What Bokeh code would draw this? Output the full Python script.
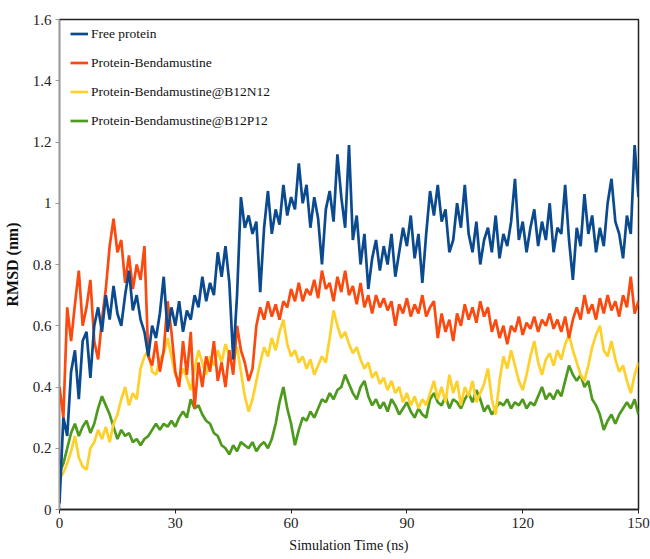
from bokeh.plotting import figure
from bokeh.models import Legend, LegendItem, FixedTicker, ColumnDataSource
from bokeh.embed import file_html
from bokeh.resources import INLINE

# ---------------- data (1 ns steps) ----------------
time_ns = list(range(0, 151))

free_protein = [
    0.02, 0.30, 0.24, 0.45, 0.52, 0.36, 0.55, 0.58, 0.43, 0.60,
    0.66, 0.58, 0.70, 0.62, 0.73, 0.64, 0.60, 0.70, 0.78, 0.65,
    0.70, 0.62, 0.58, 0.50, 0.60, 0.56, 0.64, 0.76, 0.58, 0.66,
    0.60, 0.68, 0.58, 0.65, 0.62, 0.70, 0.66, 0.76, 0.68, 0.74,
    0.70, 0.84, 0.76, 0.86, 0.74, 0.49, 0.70, 1.02, 0.92, 0.96,
    0.90, 0.94, 0.71, 0.92, 1.04, 0.90, 0.98, 0.93, 1.06, 0.96,
    1.02, 0.98, 1.13, 1.00, 1.06, 0.92, 1.02, 0.95, 0.80, 0.98,
    1.04, 0.94, 1.16, 1.02, 0.92, 1.19, 0.88, 0.96, 0.80, 0.90,
    0.72, 0.82, 0.88, 0.78, 0.86, 0.80, 0.90, 0.76, 0.84, 0.92,
    0.86, 0.96, 0.82, 0.90, 0.74, 0.90, 1.04, 0.96, 1.06, 0.94,
    0.98, 0.84, 0.88, 1.00, 0.92, 1.06, 0.90, 0.84, 0.94, 0.80,
    0.88, 0.92, 0.84, 0.96, 0.82, 0.90, 0.86, 0.94, 1.08, 0.88,
    0.94, 0.84, 0.92, 0.98, 0.86, 0.94, 0.88, 1.00, 0.84, 0.92,
    0.90, 1.06, 0.88, 0.75, 0.92, 0.86, 1.03, 0.90, 0.96, 0.84,
    0.92, 0.86, 1.00, 1.08, 0.94, 0.90, 0.82, 0.96, 0.90, 1.19,
    1.02,
]

protein_bend = [
    0.40, 0.30, 0.66, 0.55, 0.67, 0.78, 0.60, 0.66, 0.75, 0.55,
    0.49, 0.62, 0.72, 0.86, 0.95, 0.84, 0.88, 0.74, 0.83, 0.72,
    0.80, 0.75, 0.86, 0.50, 0.47, 0.55, 0.45, 0.52, 0.68, 0.58,
    0.45, 0.40, 0.55, 0.44, 0.58, 0.33, 0.48, 0.40, 0.50, 0.45,
    0.55, 0.42, 0.48, 0.40, 0.52, 0.44, 0.60, 0.52, 0.48, 0.42,
    0.46, 0.60, 0.66, 0.62, 0.68, 0.63, 0.67, 0.62, 0.68, 0.66,
    0.72, 0.68, 0.74, 0.68, 0.72, 0.70, 0.75, 0.69, 0.78, 0.72,
    0.74, 0.68, 0.76, 0.71, 0.78, 0.70, 0.73, 0.67, 0.74, 0.66,
    0.70, 0.64, 0.70, 0.66, 0.69, 0.65, 0.68, 0.60, 0.67, 0.64,
    0.69, 0.63, 0.67, 0.64, 0.70, 0.63, 0.66, 0.68, 0.56, 0.64,
    0.58, 0.62, 0.55, 0.64, 0.60, 0.67, 0.62, 0.66, 0.61, 0.68,
    0.63, 0.66, 0.58, 0.62, 0.56, 0.60, 0.54, 0.60, 0.58, 0.63,
    0.57, 0.61, 0.59, 0.63, 0.58, 0.62, 0.60, 0.64, 0.59, 0.62,
    0.58, 0.63, 0.56, 0.62, 0.66, 0.62, 0.70, 0.64, 0.67, 0.62,
    0.69, 0.64, 0.70, 0.65, 0.68, 0.63, 0.70, 0.66, 0.76, 0.64,
    0.68,
]

protein_bend_b12n12 = [
    0.10, 0.12, 0.15, 0.19, 0.24, 0.17, 0.14, 0.13, 0.20, 0.22,
    0.26, 0.23, 0.27, 0.22, 0.28, 0.31, 0.36, 0.40, 0.34, 0.38,
    0.36, 0.46, 0.50, 0.52, 0.45, 0.44, 0.49, 0.51, 0.56, 0.50,
    0.44, 0.42, 0.46, 0.43, 0.39, 0.46, 0.52, 0.48, 0.44, 0.50,
    0.47, 0.52, 0.48, 0.54, 0.50, 0.49, 0.53, 0.45, 0.37, 0.32,
    0.36, 0.42, 0.48, 0.53, 0.50, 0.56, 0.52, 0.58, 0.62, 0.54,
    0.50, 0.52, 0.48, 0.50, 0.46, 0.49, 0.44, 0.47, 0.50, 0.48,
    0.56, 0.65, 0.60, 0.56, 0.58, 0.54, 0.51, 0.53, 0.49, 0.46,
    0.48, 0.43, 0.45, 0.41, 0.43, 0.39, 0.42, 0.38, 0.40, 0.35,
    0.38, 0.34, 0.37, 0.33, 0.36, 0.34, 0.38, 0.42, 0.36, 0.40,
    0.35, 0.44, 0.38, 0.42, 0.34, 0.40, 0.37, 0.42, 0.35, 0.38,
    0.41, 0.46, 0.36, 0.31, 0.42, 0.50, 0.46, 0.52, 0.47, 0.42,
    0.39, 0.44, 0.50, 0.55, 0.48, 0.44, 0.49, 0.51, 0.47, 0.52,
    0.49, 0.54, 0.57, 0.52, 0.48, 0.44, 0.42, 0.47, 0.53, 0.57,
    0.60, 0.52, 0.50, 0.55, 0.49, 0.45, 0.47, 0.42, 0.38, 0.44,
    0.48,
]

protein_bend_b12p12 = [
    0.12, 0.15, 0.20, 0.25, 0.28, 0.24, 0.27, 0.29, 0.25, 0.28,
    0.33, 0.37, 0.34, 0.31, 0.27, 0.23, 0.26, 0.24, 0.25, 0.22,
    0.23, 0.21, 0.23, 0.24, 0.26, 0.28, 0.26, 0.28, 0.27, 0.29,
    0.27, 0.30, 0.32, 0.30, 0.36, 0.33, 0.34, 0.31, 0.29, 0.28,
    0.25, 0.24, 0.21, 0.20, 0.18, 0.21, 0.19, 0.22, 0.21, 0.20,
    0.22, 0.19, 0.21, 0.22, 0.20, 0.23, 0.28, 0.35, 0.40, 0.33,
    0.28, 0.21, 0.26, 0.30, 0.29, 0.32, 0.30, 0.33, 0.36, 0.35,
    0.38, 0.36, 0.39, 0.40, 0.44, 0.41, 0.38, 0.36, 0.40, 0.42,
    0.37, 0.34, 0.36, 0.33, 0.35, 0.32, 0.36, 0.34, 0.31, 0.33,
    0.35, 0.32, 0.30, 0.33, 0.31, 0.30, 0.36, 0.38, 0.35, 0.34,
    0.37, 0.33, 0.36, 0.35, 0.33, 0.36, 0.38, 0.35, 0.39, 0.36,
    0.32, 0.34, 0.31, 0.33, 0.35, 0.34, 0.36, 0.33, 0.35, 0.34,
    0.36, 0.33, 0.35, 0.34, 0.37, 0.40, 0.36, 0.38, 0.36, 0.39,
    0.37, 0.42, 0.47, 0.44, 0.42, 0.44, 0.40, 0.42, 0.36, 0.34,
    0.31, 0.26, 0.29, 0.31, 0.28, 0.31, 0.33, 0.35, 0.33, 0.36,
    0.31,
]

series_names = ["Free protein", "Protein-Bendamustine",
                "Protein-Bendamustine@B12N12", "Protein-Bendamustine@B12P12"]
series_colors = ["#0b4a8e", "#fb4a10", "#fdd02a", "#4e9a1e"]

x_ticks = [0, 30, 60, 90, 120, 150]
y_ticks = [0, 0.2, 0.4, 0.6, 0.8, 1.0, 1.2, 1.4, 1.6]
y_tick_labels = ["0", "0.2", "0.4", "0.6", "0.8", "1", "1.2", "1.4", "1.6"]

# ---------------- figure ----------------
FONT = "Liberation Serif"
LW = 2.7

p = figure(width=650, height=559, output_backend="svg", toolbar_location=None,
           x_range=(0, 150), y_range=(0, 1.6),
           min_border_left=59, min_border_right=12,
           min_border_top=19, min_border_bottom=50)

src = ColumnDataSource(dict(t=time_ns, a=free_protein, b=protein_bend,
                            c=protein_bend_b12n12, d=protein_bend_b12p12))

r_d = p.line("t", "d", source=src, line_color=series_colors[3], line_width=LW)
r_c = p.line("t", "c", source=src, line_color=series_colors[2], line_width=LW)
r_b = p.line("t", "b", source=src, line_color=series_colors[1], line_width=LW)
r_a = p.line("t", "a", source=src, line_color=series_colors[0], line_width=LW)

legend = Legend(items=[
    LegendItem(label=series_names[0], renderers=[r_a]),
    LegendItem(label=series_names[1], renderers=[r_b]),
    LegendItem(label=series_names[2], renderers=[r_c]),
    LegendItem(label=series_names[3], renderers=[r_d]),
], location=(11, 380))
legend.border_line_color = None
legend.background_fill_alpha = 0
legend.padding = 0
legend.margin = 0
legend.spacing = 12
legend.glyph_width = 18
legend.glyph_height = 17
legend.label_height = 17
legend.label_standoff = 3
legend.label_text_font = FONT
legend.label_text_font_size = "13.5px"
legend.label_text_color = "#111111"
p.add_layout(legend, "center")

p.xgrid.visible = False
p.ygrid.visible = False
p.outline_line_color = "#222222"
p.outline_line_width = 1.5

p.xaxis.ticker = FixedTicker(ticks=x_ticks)
p.yaxis.ticker = FixedTicker(ticks=y_ticks)
p.yaxis.major_label_overrides = {v: s for v, s in zip(y_ticks, y_tick_labels)}

for ax in (p.xaxis[0], p.yaxis[0]):
    ax.major_label_text_font = FONT
    ax.major_label_text_font_size = "15px"
    ax.major_label_text_color = "#222222"
    ax.axis_label_text_font = FONT
    ax.axis_label_text_color = "#111111"
    ax.minor_tick_line_color = None
    ax.major_tick_in = 0
    ax.major_tick_out = 4
    ax.major_label_standoff = 4

p.xaxis.axis_label = "Simulation Time (ns)"
p.yaxis.axis_label = "RMSD (nm)"
p.xaxis.axis_label_text_font_size = "14px"
p.xaxis.axis_label_text_font_style = "normal"
p.yaxis.axis_label_text_font_size = "16px"
p.yaxis.axis_label_text_font_style = "bold"
p.xaxis.axis_line_color = "#222222"
p.xaxis.axis_line_width = 1.5
p.xaxis.major_tick_line_color = "#222222"
p.yaxis.axis_line_color = "#999999"
p.yaxis.major_tick_line_color = "#999999"
p.xaxis.axis_label_standoff = 7
p.yaxis.axis_label_standoff = 9

open("out.html", "w").write(file_html(p, INLINE))
